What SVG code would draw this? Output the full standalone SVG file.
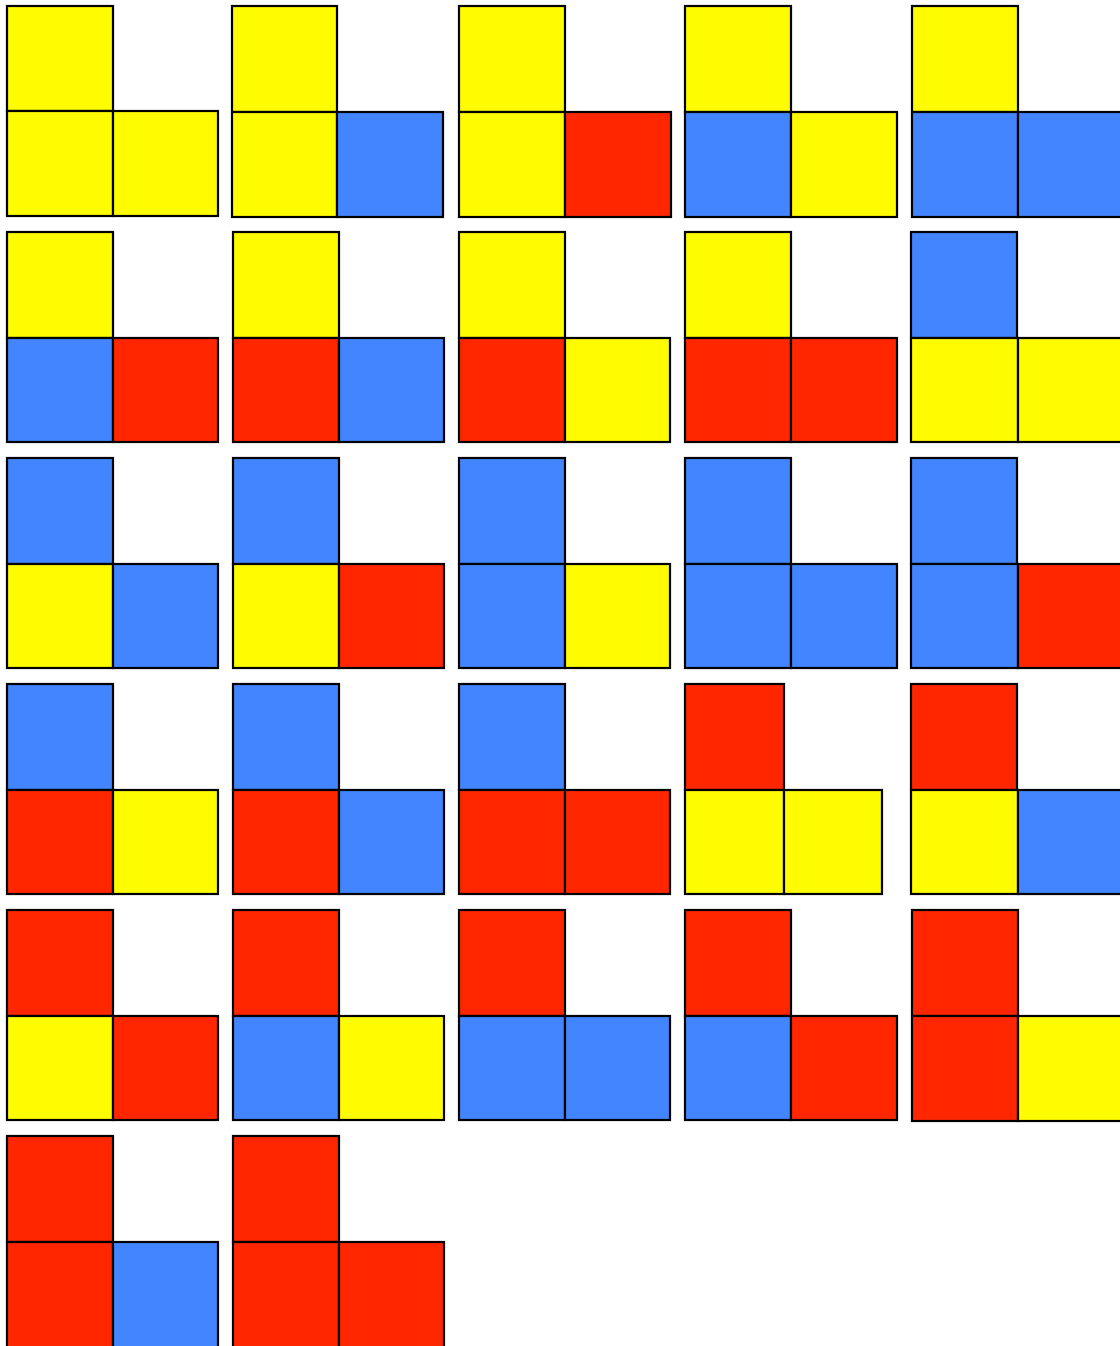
<svg xmlns="http://www.w3.org/2000/svg" width="1120" height="1346" viewBox="0 0 1120 1346">
<style>
.Y,.B,.R{stroke:#000;stroke-width:2.2}
.Y{fill:#FFFB00}
.B{fill:#4285FF}
.R{fill:#FF2600}
</style>
<rect x="0" y="0" width="1120" height="1346" fill="#fff"/>
<g id="L1"><rect class="Y" x="7" y="6" width="106" height="105"/><rect class="Y" x="7" y="111" width="106" height="105"/><rect class="Y" x="113" y="111" width="105" height="105"/></g>
<g id="L2"><rect class="Y" x="232" y="6" width="105" height="106"/><rect class="Y" x="232" y="112" width="105" height="105"/><rect class="B" x="337" y="112" width="106" height="105"/></g>
<g id="L3"><rect class="Y" x="459" y="6" width="106" height="106"/><rect class="Y" x="459" y="112" width="106" height="105"/><rect class="R" x="565" y="112" width="106" height="105"/></g>
<g id="L4"><rect class="Y" x="685" y="6" width="106" height="106"/><rect class="B" x="685" y="112" width="106" height="105"/><rect class="Y" x="791" y="112" width="106" height="105"/></g>
<g id="L5"><rect class="Y" x="912" y="6" width="106" height="106"/><rect class="B" x="912" y="112" width="106" height="105"/><rect class="B" x="1018" y="112" width="106" height="105"/></g>

<g id="L6"><rect class="Y" x="7" y="232" width="106" height="106"/><rect class="B" x="7" y="338" width="106" height="104"/><rect class="R" x="113" y="338" width="105" height="104"/></g>
<g id="L7"><rect class="Y" x="233" y="232" width="106" height="106"/><rect class="R" x="233" y="338" width="106" height="104"/><rect class="B" x="339" y="338" width="105" height="104"/></g>
<g id="L8"><rect class="Y" x="459" y="232" width="106" height="106"/><rect class="R" x="459" y="338" width="106" height="104"/><rect class="Y" x="565" y="338" width="105" height="104"/></g>
<g id="L9"><rect class="Y" x="685" y="232" width="106" height="106"/><rect class="R" x="685" y="338" width="106" height="104"/><rect class="R" x="791" y="338" width="106" height="104"/></g>
<g id="L10"><rect class="B" x="911" y="232" width="106" height="106"/><rect class="Y" x="911" y="338" width="107" height="104"/><rect class="Y" x="1018" y="338" width="106" height="104"/></g>

<g id="L11"><rect class="B" x="7" y="458" width="106" height="106"/><rect class="Y" x="7" y="564" width="106" height="104"/><rect class="B" x="113" y="564" width="105" height="104"/></g>
<g id="L12"><rect class="B" x="233" y="458" width="106" height="106"/><rect class="Y" x="233" y="564" width="106" height="104"/><rect class="R" x="339" y="564" width="105" height="104"/></g>
<g id="L13"><rect class="B" x="459" y="458" width="106" height="106"/><rect class="B" x="459" y="564" width="106" height="104"/><rect class="Y" x="565" y="564" width="105" height="104"/></g>
<g id="L14"><rect class="B" x="685" y="458" width="106" height="106"/><rect class="B" x="685" y="564" width="106" height="104"/><rect class="B" x="791" y="564" width="106" height="104"/></g>
<g id="L15"><rect class="B" x="911" y="458" width="106" height="106"/><rect class="B" x="911" y="564" width="107" height="104"/><rect class="R" x="1018" y="564" width="106" height="104"/></g>

<g id="L16"><rect class="B" x="7" y="684" width="106" height="106"/><rect class="R" x="7" y="790" width="106" height="104"/><rect class="Y" x="113" y="790" width="105" height="104"/></g>
<g id="L17"><rect class="B" x="233" y="684" width="106" height="106"/><rect class="R" x="233" y="790" width="106" height="104"/><rect class="B" x="339" y="790" width="105" height="104"/></g>
<g id="L18"><rect class="B" x="459" y="684" width="106" height="106"/><rect class="R" x="459" y="790" width="106" height="104"/><rect class="R" x="565" y="790" width="105" height="104"/></g>
<g id="L19"><rect class="R" x="685" y="684" width="99" height="106"/><rect class="Y" x="685" y="790" width="99" height="104"/><rect class="Y" x="784" y="790" width="98" height="104"/></g>
<g id="L20"><rect class="R" x="911" y="684" width="106" height="106"/><rect class="Y" x="911" y="790" width="107" height="104"/><rect class="B" x="1018" y="790" width="106" height="104"/></g>

<g id="L21"><rect class="R" x="7" y="910" width="106" height="106"/><rect class="Y" x="7" y="1016" width="106" height="104"/><rect class="R" x="113" y="1016" width="105" height="104"/></g>
<g id="L22"><rect class="R" x="233" y="910" width="106" height="106"/><rect class="B" x="233" y="1016" width="106" height="104"/><rect class="Y" x="339" y="1016" width="105" height="104"/></g>
<g id="L23"><rect class="R" x="459" y="910" width="106" height="106"/><rect class="B" x="459" y="1016" width="106" height="104"/><rect class="B" x="565" y="1016" width="105" height="104"/></g>
<g id="L24"><rect class="R" x="685" y="910" width="106" height="106"/><rect class="B" x="685" y="1016" width="106" height="104"/><rect class="R" x="791" y="1016" width="106" height="104"/></g>
<g id="L25"><rect class="R" x="912" y="910" width="106" height="106"/><rect class="R" x="912" y="1016" width="106" height="105"/><rect class="Y" x="1018" y="1016" width="106" height="105"/></g>

<g id="L26"><rect class="R" x="7" y="1136" width="106" height="106"/><rect class="R" x="7" y="1242" width="106" height="106"/><rect class="B" x="113" y="1242" width="105" height="106"/></g>
<g id="L27"><rect class="R" x="233" y="1136" width="106" height="106"/><rect class="R" x="233" y="1242" width="106" height="106"/><rect class="R" x="339" y="1242" width="105" height="106"/></g>
<g id="connectors"/>
</svg>
